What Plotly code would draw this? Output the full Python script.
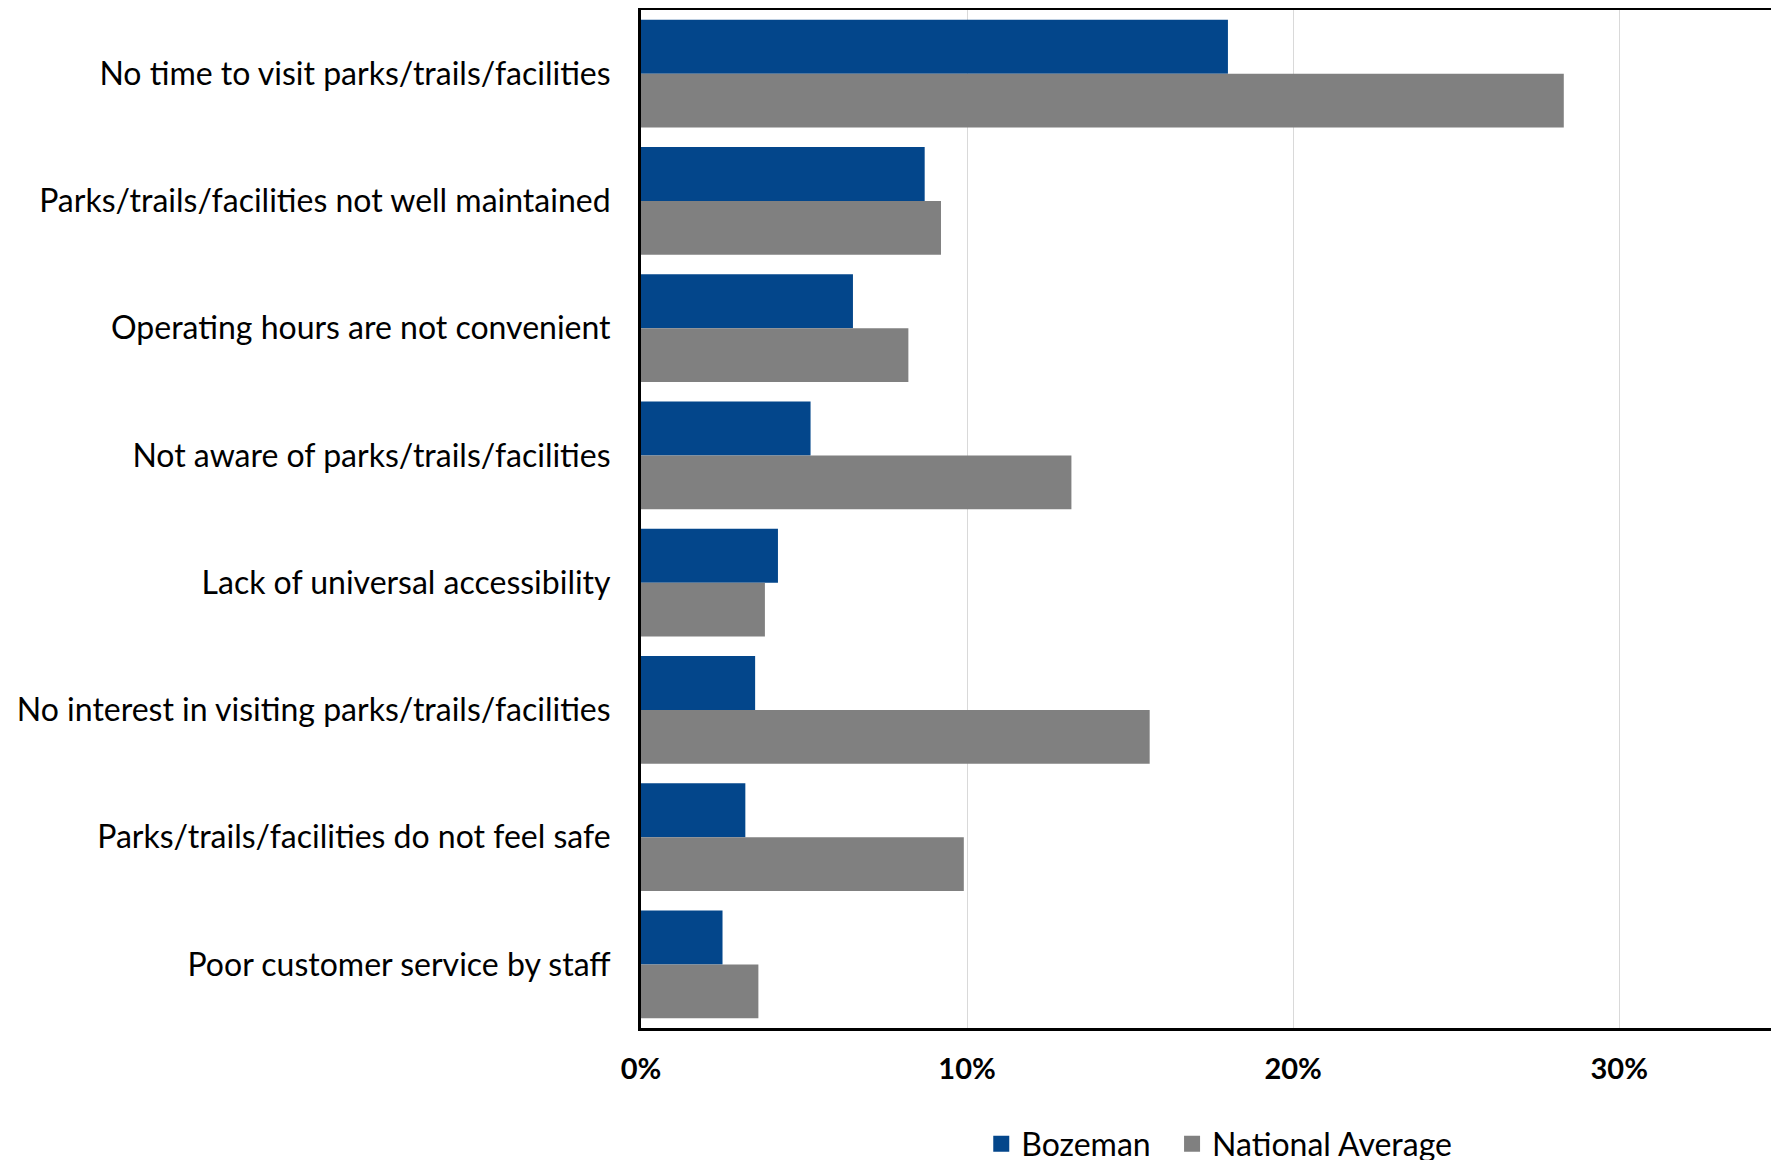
import plotly.graph_objects as go

CATEGORIES = [
    "No time to visit parks/trails/facilities",
    "Parks/trails/facilities not well maintained",
    "Operating hours are not convenient",
    "Not aware of parks/trails/facilities",
    "Lack of universal accessibility",
    "No interest in visiting parks/trails/facilities",
    "Parks/trails/facilities do not feel safe",
    "Poor customer service by staff",
]
BOZEMAN = [18.0, 8.7, 6.5, 5.2, 4.2, 3.5, 3.2, 2.5]
NATIONAL = [28.3, 9.2, 8.2, 13.2, 3.8, 15.6, 9.9, 3.6]
TICKS = [0, 10, 20, 30]
TICK_TEXT = ["0%", "10%", "20%", "30%"]

FONT = "Lato"
BLUE = "#03468b"
GREY = "#808080"

fig = go.Figure()
fig.add_trace(go.Bar(y=CATEGORIES, x=BOZEMAN, name="Bozeman", orientation="h",
                     marker=dict(color=BLUE, line=dict(width=0)), showlegend=False))
fig.add_trace(go.Bar(y=CATEGORIES, x=NATIONAL, name="National Average", orientation="h",
                     marker=dict(color=GREY, line=dict(width=0)), showlegend=False))
# legend entries with bigger square swatches (nbsp pad widens the gap between items)
for name, color in [("Bozeman\u00a0\u00a0", BLUE), ("National Average", GREY)]:
    fig.add_trace(go.Scatter(x=[None], y=[None], mode="markers", name=name,
                             marker=dict(symbol="square", size=30, color=color)))

fig.update_layout(
    width=1771,
    height=1152,
    template="plotly_white",
    barmode="group",
    bargap=0.155,
    bargroupgap=0,
    plot_bgcolor="white",
    paper_bgcolor="white",
    font=dict(family=FONT, size=32, color="#000000"),
    margin=dict(l=633, r=0, t=2, b=132, autoexpand=False),
    showlegend=True,
    legend=dict(
        orientation="h",
        x=0.299,
        xanchor="left",
        y=-0.114,
        yanchor="middle",
        font=dict(size=32, family=FONT),
        traceorder="normal",
        bgcolor="rgba(0,0,0,0)",
    ),
)
fig.update_xaxes(
    range=[0, 34.9],
    tickvals=TICKS,
    ticktext=TICK_TEXT,
    tickfont=dict(size=29, family=FONT, color="#000000", weight="bold"),
    showgrid=True,
    gridcolor="#d9d9d9",
    gridwidth=1,
    showline=True,
    linecolor="#000000",
    linewidth=3,
    mirror=True,
    zeroline=False,
    ticks="",
    ticklabelstandoff=13,
)
fig.update_yaxes(
    autorange="reversed",
    showgrid=False,
    showline=True,
    linecolor="#000000",
    linewidth=3,
    ticks="",
    ticklabelstandoff=21,
    tickfont=dict(size=32, family=FONT, color="#000000"),
)

fig.write_html("out.html")
